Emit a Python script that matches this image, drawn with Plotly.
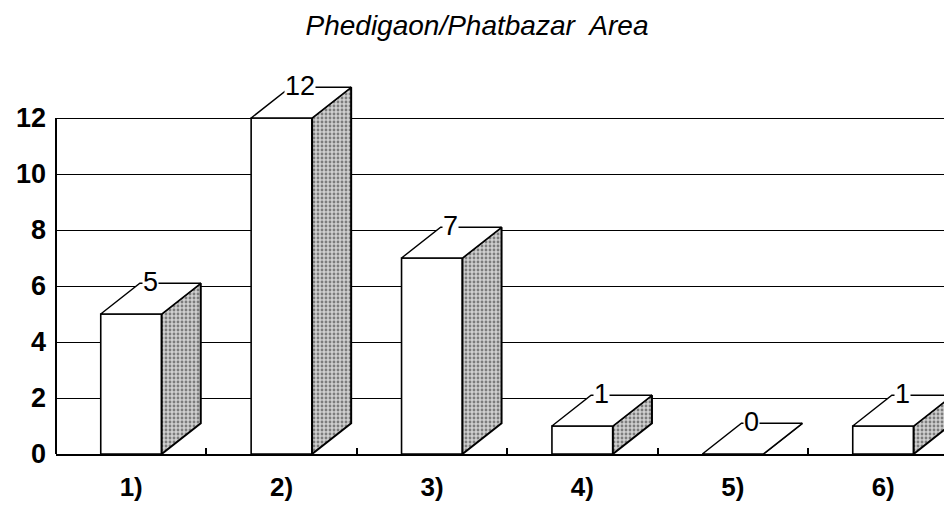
import plotly.graph_objects as go

categories = ["1)", "2)", "3)", "4)", "5)", "6)"]
values = [5, 12, 7, 1, 0, 1]
y_ticks = [0, 2, 4, 6, 8, 10, 12]
title_text = "Phedigaon/Phatbazar\u00a0 Area"

# 3D look (style constants, in axis units)
W = 0.405   # front face width
DX = 0.26   # depth offset in x
DY = 1.1    # depth offset in y

FONT = "Liberation Sans, Arial, sans-serif"
xs = list(range(len(categories)))

# the page body has an 8px default margin; size the figure to fit the window
FIG_W, FIG_H = 944, 500

fig = go.Figure()

# front faces
fig.add_trace(go.Bar(
    x=xs, y=values, width=W,
    marker=dict(color="white", line=dict(color="black", width=1.6)),
    hoverinfo="skip", showlegend=False,
))

# side faces (stippled)
sx, sy = [], []
for x, v in zip(xs, values):
    r = x + W / 2
    sx += [r, r + DX, r + DX, r, r, None]
    sy += [0, DY, v + DY, v, 0, None]
fig.add_trace(go.Scatter(
    x=sx, y=sy, mode="lines", fill="toself",
    fillcolor="#bdbdbd",
    fillpattern=dict(shape=".", bgcolor="#cfcfcf", fgcolor="#2a2a2a", size=4, solidity=0.4),
    line=dict(color="black", width=2),
    hoverinfo="skip", showlegend=False,
))

# top faces
tx, ty = [], []
for x, v in zip(xs, values):
    l, r = x - W / 2, x + W / 2
    tx += [l, r, r + DX, l + DX, l, None]
    ty += [v, v, v + DY, v + DY, v, None]
fig.add_trace(go.Scatter(
    x=tx, y=ty, mode="lines", fill="toself", fillcolor="white",
    line=dict(color="black", width=1.4),
    hoverinfo="skip", showlegend=False,
))

# value labels
for x, v in zip(xs, values):
    fig.add_annotation(
        x=x + 0.125, y=v + DY + 0.05, text=str(v), showarrow=False,
        font=dict(family=FONT, size=27, color="black"),
        bgcolor="white", borderpad=0, xanchor="center", yanchor="middle",
    )

# y axis line (stops at top tick)
fig.add_shape(type="line", xref="paper", yref="y", x0=0, x1=0, y0=0, y1=max(y_ticks),
              line=dict(color="black", width=2))

fig.update_layout(
    width=FIG_W, height=FIG_H,
    margin=dict(l=48, r=0, t=68, b=54, autoexpand=False),
    paper_bgcolor="white", plot_bgcolor="white",
    title=dict(text=title_text, x=469 / FIG_W, xanchor="center", xref="container",
               y=1 - 17 / FIG_H, yref="container", yanchor="middle",
               font=dict(family=FONT, size=28, color="black", style="italic")),
    xaxis=dict(
        range=[-0.5, -0.5 + 896 / 150.4],
        tickmode="array", tickvals=xs, ticktext=categories,
        ticks="", showgrid=False, zeroline=False,
        showline=True, linecolor="black", linewidth=1.8,
        ticklabelstandoff=9, automargin=False,
        tickfont=dict(family=FONT, size=26, color="black", weight="bold"),
        minor=dict(tickmode="linear", tick0=0.5, dtick=1, ticks="inside",
                   ticklen=6, tickcolor="black", tickwidth=1.5, showgrid=False),
        fixedrange=True,
    ),
    yaxis=dict(
        range=[0, 13.5],
        tickmode="array", tickvals=y_ticks,
        showgrid=True, gridcolor="black", gridwidth=1,
        zeroline=False, showline=False,
        ticks="", ticklabelstandoff=9, automargin=False,
        tickfont=dict(family=FONT, size=27, color="black", weight="bold"),
        fixedrange=True,
    ),
)

fig.write_html("out.html")
